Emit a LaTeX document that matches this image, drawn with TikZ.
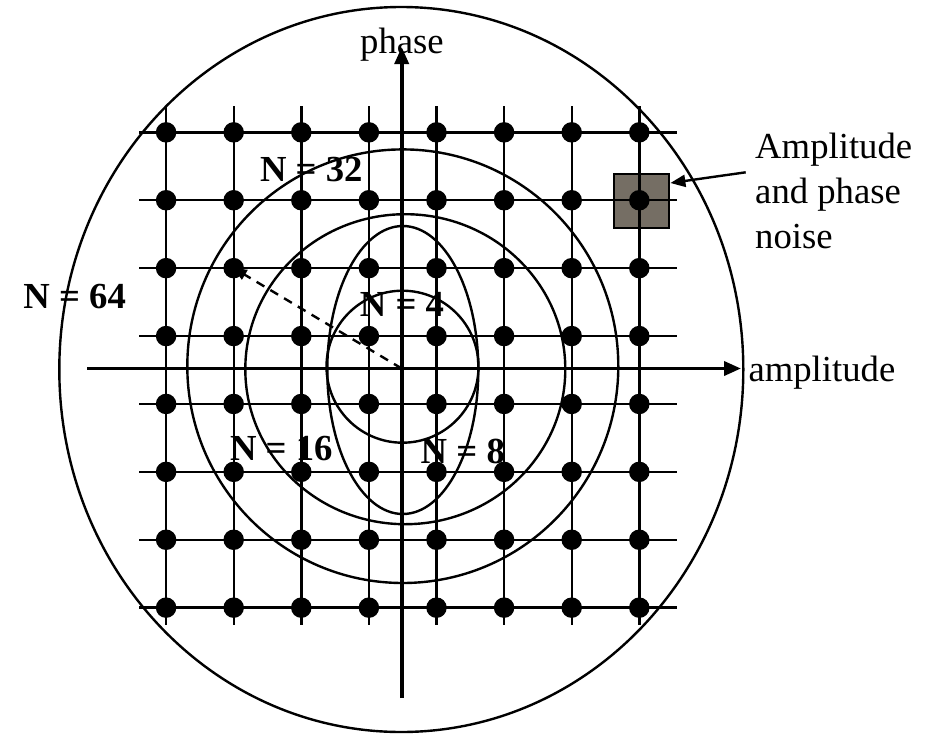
\documentclass[tikz,border=0pt]{standalone}
\usepackage{fontspec}
\setmainfont{Liberation Serif}
\usetikzlibrary{arrows.meta}
\definecolor{noisegray}{RGB}{117,110,100}
\tikzset{
  gline/.style={line width=2.4pt},
  ring/.style={line width=2.4pt},
  axis/.style={line width=3.6pt, -{Triangle[length=17pt,width=14pt]}},
  dot/.style={circle, fill=black, inner sep=0pt, minimum size=20.5pt},
  lbl/.style={font=\fontsize{36.7pt}{45pt}\selectfont, inner sep=0pt, anchor=base},
  nlbl/.style={lbl, font=\fontsize{36.7pt}{45pt}\selectfont\bfseries},
  arr/.style={line width=2.4pt, -{Triangle[length=15pt,width=12pt]}},
  darr/.style={line width=2.4pt, dash pattern=on 9pt off 7pt, -{Triangle[length=13pt,width=11pt]}},
  noisebox/.style={draw, line width=2.4pt, fill=noisegray, minimum width=55pt, minimum height=54pt, inner sep=0pt},
}
\begin{document}
\begin{tikzpicture}[x=1pt, y=-1pt]
\useasboundingbox (0,0) rectangle (926,734);

% decision regions
\draw[ring] (401.3,369.5) ellipse [x radius=342pt, y radius=362.5pt];
\draw[ring] (402.8,366.2) ellipse [x radius=215.5pt, y radius=216.8pt];
\draw[ring] (405.3,369.2) ellipse [x radius=160pt, y radius=155pt];
\draw[ring] (402.8,370) ellipse [x radius=75.5pt, y radius=144pt];
\draw[ring] (402.5,366.7) circle [radius=76pt];

\node[noisebox] (noise) at (641.7,201) {};

% constellation grid
\foreach \i in {1,...,8} {
  \pgfmathsetmacro{\gx}{402.7+(\i-4.5)*67.6}
  \pgfmathsetmacro{\gy}{370+(\i-4.5)*67.9}
  \draw[gline] (\gx,106) -- (\gx,625);
  \draw[gline] (139,\gy) -- (677,\gy);
}
\foreach \i in {1,...,8}
  \foreach \j in {1,...,8}
    \node[dot] (d-\i-\j) at ({402.7+(\i-4.5)*67.6},{370+(\j-4.5)*67.9}) {};

% axes
\coordinate (o) at (401.7,368.5);
\coordinate (xl) at (87,368.5);
\coordinate (xr) at (741,368.5);
\coordinate (yb) at (401.7,698);
\coordinate (yt) at (401.7,47);
\draw[axis] (xl) -- (xr);
\draw[axis] (yb) -- (yt);

\node[lbl] (phase) at (402,53.3) {phase};
\node[lbl, anchor=base west] (ampl) at (748.3,381.7) {amplitude};

\draw[darr] (o) -- (d-2-3.center);

\node[nlbl] (n64) at (74.7,308.3) {N = 64};
\node[nlbl] (n32) at (311.3,181.7) {N = 32};
\node[nlbl] (n16) at (281.3,460.7) {N = 16};
\node[nlbl] (n8) at (462.8,463.3) {N = 8};
\node[nlbl] (n4) at (402,316.7) {N = 4};

% last line sits on the base anchor
\node[lbl, anchor=base west, align=left] (noiselbl) at (755,248.3) {Amplitude\\and phase\\noise};
\coordinate (nstart) at (745.7,172.3);
\draw[arr] (nstart) -- ([yshift=18pt]noise.east);

\end{tikzpicture}
\end{document}
